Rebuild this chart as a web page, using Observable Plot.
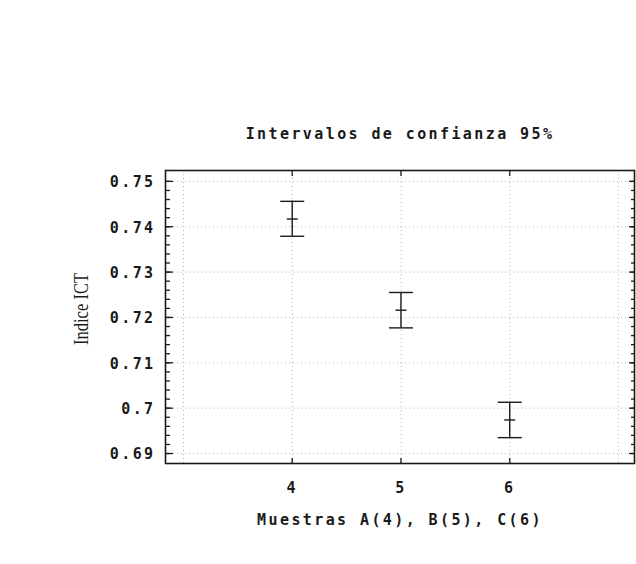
<!DOCTYPE html>
<html>
<head>
<meta charset="utf-8">
<script src="https://cdn.jsdelivr.net/npm/d3@7"></script>
<script src="https://cdn.jsdelivr.net/npm/@observablehq/plot@0.6"></script>
<style>
  html, body { margin: 0; padding: 0; background: #fff; }
  #chart { width: 636px; height: 564px; }
</style>
</head>
<body>
<div id="chart"></div>
<script>
// Sample groups (A = 4, B = 5, C = 6) with mean ICT index and 95% confidence bounds
const samples = [4, 5, 6];
const means = [0.7417, 0.7216, 0.6974];
const lower = [0.7379, 0.7177, 0.6935];
const upper = [0.7456, 0.7255, 0.7013];

// Axis ticks and labels
const yTicks = [0.69, 0.70, 0.71, 0.72, 0.73, 0.74, 0.75];
const yTickLabels = ["0.69", "0.7", "0.71", "0.72", "0.73", "0.74", "0.75"];
const yMinorTicks = d3.range(0, 31).map(i => 0.69 + i * 0.002);
const xTicks = [4, 5, 6];
const xTickLabels = ["4", "5", "6"];
const xGridLines = [3, 4, 5, 6, 7];

const title = "Intervalos de confianza 95%";
const xTitle = "Muestras A(4), B(5), C(6)";
const yTitle = "Indice ICT";

const rows = samples.map((s, i) => ({sample: s, mean: means[i], lo: lower[i], hi: upper[i]}));

// Horizontal bar symbol for caps and mean markers; its half-width is the dot radius
const hbar = {
  draw(context, size) {
    const h = Math.sqrt(size / Math.PI);
    context.moveTo(-h, 0);
    context.lineTo(h, 0);
  }
};

const ink = "#1a1a1a";
const mono = "DejaVu Sans Mono";
const gridStyle = {stroke: "#b4b4b4", strokeOpacity: 1, strokeDasharray: "1,3"};
const blank = () => "";

const chart = Plot.plot({
  width: 636,
  height: 564,
  marginLeft: 165,
  marginRight: 2,
  marginTop: 170,
  marginBottom: 101,
  style: {background: "#fff", color: ink, letterSpacing: "2.4px"},
  x: {type: "linear", domain: [2.835, 7.147]},
  y: {type: "linear", domain: [0.6878, 0.7524]},
  marks: [
    Plot.gridY(yTicks, gridStyle),
    Plot.gridX(xGridLines, gridStyle),

    // left axis: labels, then inward major and minor ticks
    Plot.axisY(yTicks, {anchor: "left", tickSize: 0, tickPadding: 10, dy: 1,
      tickFormat: (d, i) => yTickLabels[i], fontFamily: mono, fontWeight: "bold", fontSize: 15, label: null}),
    Plot.axisY(yTicks, {anchor: "left", tickSize: -8, tickFormat: blank, label: null, strokeWidth: 1.3}),
    Plot.axisY(yMinorTicks, {anchor: "left", tickSize: -5, tickFormat: blank, label: null, strokeWidth: 1.3}),

    // right axis: inward ticks only
    Plot.axisY(yTicks, {anchor: "right", tickSize: -6, tickFormat: blank, label: null, strokeWidth: 1.3}),
    Plot.axisY(yMinorTicks, {anchor: "right", tickSize: -4, tickFormat: blank, label: null, strokeWidth: 1.3}),

    // bottom axis labels and inward ticks, top inward ticks
    Plot.axisX(xTicks, {anchor: "bottom", tickSize: 0, tickPadding: 19,
      tickFormat: (d, i) => xTickLabels[i], fontFamily: mono, fontWeight: "bold", fontSize: 15, label: null}),
    Plot.axisX(xTicks, {anchor: "bottom", tickSize: -5, tickFormat: blank, label: null, strokeWidth: 1.3}),
    Plot.axisX(xTicks, {anchor: "top", tickSize: -5, tickFormat: blank, label: null, strokeWidth: 1.3}),

    Plot.frame({stroke: ink, strokeWidth: 1.6}),

    // confidence intervals
    Plot.ruleX(rows, {x: "sample", y1: "lo", y2: "hi", stroke: ink, strokeWidth: 1.4}),
    Plot.dot(rows, {x: "sample", y: "hi", symbol: hbar, r: 12, stroke: ink, strokeWidth: 1.4}),
    Plot.dot(rows, {x: "sample", y: "lo", symbol: hbar, r: 12, stroke: ink, strokeWidth: 1.4}),
    Plot.dot(rows, {x: "sample", y: "mean", symbol: hbar, r: 5.5, stroke: ink, strokeWidth: 1.4}),

    // titles
    Plot.text([title], {frameAnchor: "top", dy: -42, text: d => d,
      fontFamily: mono, fontWeight: "bold", fontSize: 15, fill: ink}),
    Plot.text([xTitle], {frameAnchor: "bottom", dy: 61, text: d => d,
      fontFamily: mono, fontWeight: "bold", fontSize: 15, fill: ink}),
    Plot.text([yTitle], {frameAnchor: "left", textAnchor: "middle", dx: -84, dy: -8, rotate: -90, text: d => d,
      fontFamily: "Liberation Serif", fontSize: 20, fill: ink})
  ]
});

// narrow the rotated axis title to the width of the original typeface
d3.select(chart).selectAll("text")
  .filter(function () { return this.textContent === yTitle; })
  .style("letter-spacing", "0")
  .attr("textLength", 72)
  .attr("lengthAdjust", "spacingAndGlyphs");

document.getElementById("chart").appendChild(chart);
</script>
</body>
</html>
